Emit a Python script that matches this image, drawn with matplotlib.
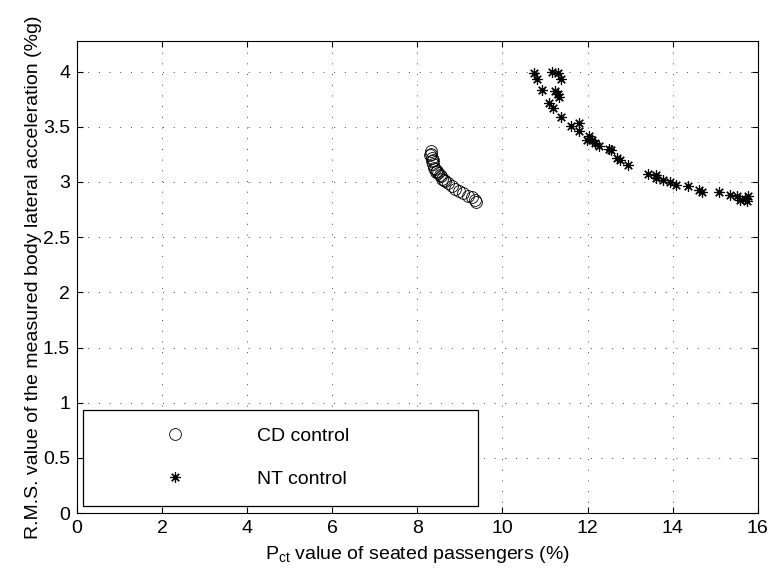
import matplotlib
matplotlib.use("Agg")
import matplotlib.pyplot as plt
import numpy as np

plt.rcParams['font.family'] = ['Liberation Sans', 'DejaVu Sans']
plt.rcParams['mathtext.default'] = 'regular'

# CD control: P_ct (%) vs RMS lateral acceleration (%g)
cd_pct = [8.32, 8.32, 8.30, 8.34, 8.35, 8.36, 8.37, 8.40, 8.42, 8.43, 8.45,
          8.48, 8.53, 8.55, 8.59, 8.62, 8.66, 8.73, 8.81, 8.88, 8.98, 9.08,
          9.18, 9.28, 9.35, 9.38]
cd_rms = [3.28, 3.25, 3.24, 3.22, 3.19, 3.20, 3.16, 3.13, 3.12, 3.09, 3.10,
          3.08, 3.06, 3.05, 3.03, 3.02, 3.01, 2.99, 2.96, 2.94, 2.92, 2.90,
          2.87, 2.86, 2.84, 2.82]

# NT control
nt_pct = [10.73, 10.80, 11.16, 11.31, 11.37, 10.92, 11.24, 11.30, 11.34,
          11.10, 11.19, 11.38, 11.62, 11.79, 11.81, 12.03, 11.99, 12.10,
          12.17, 12.28, 12.51, 12.55, 12.70, 12.76, 12.96, 13.43, 13.60,
          13.62, 13.78, 13.94, 14.09, 14.37, 14.62, 14.70, 15.09, 15.35,
          15.52, 15.58, 15.70, 15.78, 15.74]
nt_rms = [3.99, 3.93, 4.00, 3.99, 3.93, 3.83, 3.82, 3.80, 3.77,
          3.72, 3.67, 3.59, 3.51, 3.53, 3.46, 3.42, 3.38, 3.38,
          3.35, 3.33, 3.30, 3.29, 3.22, 3.20, 3.15, 3.07, 3.06,
          3.04, 3.02, 3.00, 2.97, 2.96, 2.93, 2.91, 2.91, 2.88,
          2.87, 2.84, 2.85, 2.87, 2.83]

x_ticks = [0, 2, 4, 6, 8, 10, 12, 14, 16]
y_ticks = [0, 0.5, 1, 1.5, 2, 2.5, 3, 3.5, 4]
y_tick_labels = ['0', '0.5', '1', '1.5', '2', '2.5', '3', '3.5', '4']

FS = 14

fig = plt.figure(figsize=(7.71, 5.72), dpi=100)
ax = fig.add_axes([0.0999, 0.1031, 0.8829, 0.8257])

ax.plot(cd_pct, cd_rms, linestyle='none', marker='o', markersize=8.5,
        markerfacecolor='none', markeredgecolor='black', markeredgewidth=0.6,
        label='CD control')
ax.plot(nt_pct, nt_rms, linestyle='none', marker=(8, 2, 0), markersize=7.5,
        markeredgecolor='black', markeredgewidth=0.85, color='black',
        label='NT control')

ax.set_xlim(0, 16)
ax.set_ylim(0, 4.28)
ax.set_xticks(x_ticks)
ax.set_yticks(y_ticks)
ax.set_yticklabels(y_tick_labels)
ax.tick_params(direction='in', length=4, width=0.8, top=True, right=True,
               labelsize=FS, pad=5)
for s in ax.spines.values():
    s.set_linewidth(0.8)

ax.grid(True, linestyle=(0, (1, 10)), linewidth=0.7, color='#444444')
ax.set_axisbelow(True)

ax.set_xlabel('P$_{ct}$ value of seated passengers (%)', fontsize=FS, labelpad=5)
ax.set_ylabel('R.M.S. value of the measured body lateral acceleration (%g)',
              fontsize=FS, labelpad=1)

leg = ax.legend(loc='lower left', bbox_to_anchor=(0.0092, 0.0157, 0.5799, 0.2), mode='expand',
                borderaxespad=0, fancybox=False, framealpha=1, edgecolor='black',
                fontsize=FS, numpoints=1, borderpad=0.9, labelspacing=1.3,
                handlelength=7.6, handletextpad=0.42)
leg.get_frame().set_linewidth(0.9)

fig.savefig('out.png', dpi=100)
